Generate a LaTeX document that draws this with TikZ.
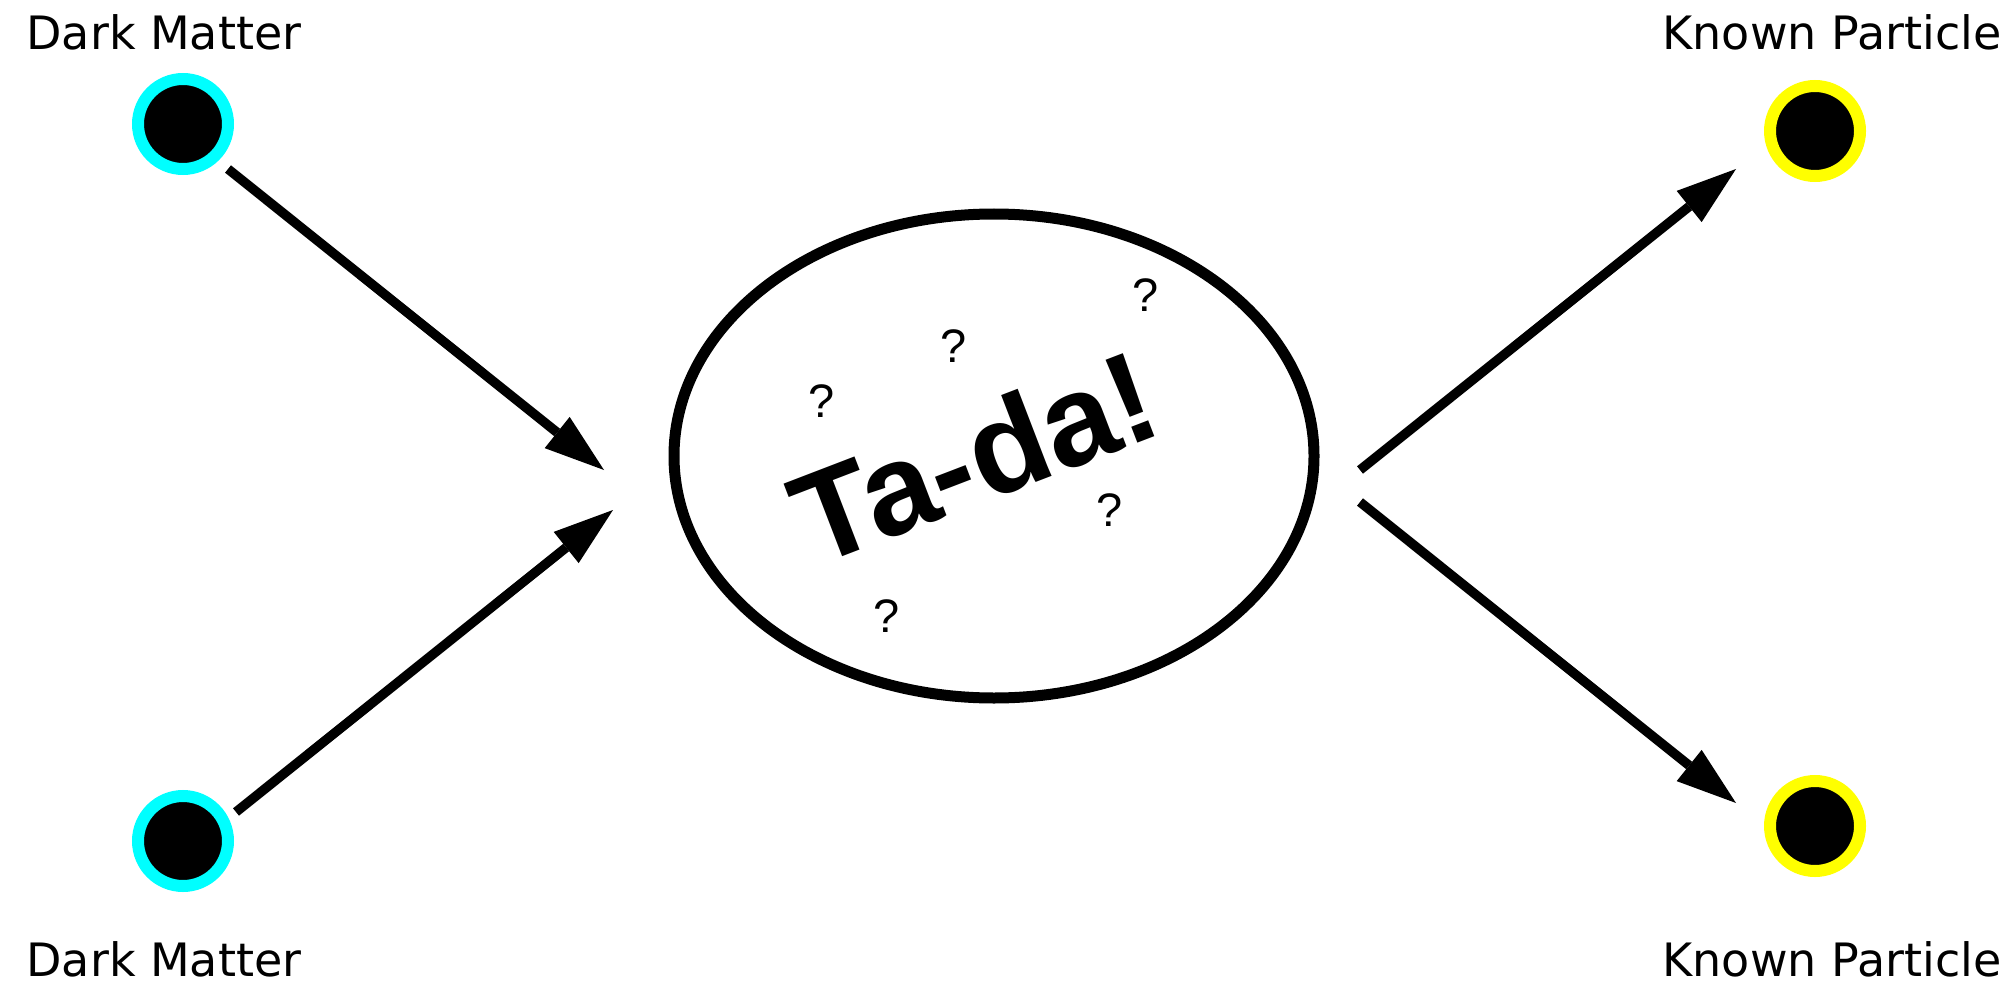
\documentclass[tikz,border=0pt]{standalone}
\usepackage{fontspec}
\setmainfont{Liberation Sans}
\newfontfamily\labelfont{DejaVu Sans}
\usetikzlibrary{arrows.meta}
\definecolor{dmcyan}{RGB}{0,255,255}
\definecolor{kpyellow}{RGB}{255,255,0}
\begin{document}
\begin{tikzpicture}[x=1pt,y=-1pt,
  particle/.style={circle, fill=black, draw=#1, line width=12pt,
    minimum size=90pt, inner sep=0pt},
  lbl/.style={anchor=base, inner sep=0pt, font=\labelfont\fontsize{46}{46}\selectfont},
  flow/.style={line width=9.5pt,
    -{Triangle[length=60pt,width=40pt,line width=0pt]}},
  qmark/.style={inner sep=0pt, font=\fontsize{47}{47}\selectfont}]
\useasboundingbox (0,0) rectangle (2008,987);

% incoming dark matter
\node[particle=dmcyan] (dm1) at (183,124) {};
\node[particle=dmcyan] (dm2) at (183,841) {};
\node[lbl] (dm1l) at (164,50) {Dark Matter};
\node[lbl] (dm2l) at (164,976) {Dark Matter};

% outgoing known particles
\node[particle=kpyellow] (kp1) at (1815,131) {};
\node[particle=kpyellow] (kp2) at (1815,826) {};
\node[lbl] (kp1l) at (1832,50) {Known Particle};
\node[lbl] (kp2l) at (1832,976) {Known Particle};

% the mystery interaction
\draw[line width=11pt] (994,456) ellipse [x radius=320, y radius=242];
\node[inner sep=0pt, rotate=21, font=\bfseries\fontsize{129}{129}\selectfont]
  (tada) at (974,457) {Ta-da!};
\node[qmark] (q1) at (822,401) {?};
\node[qmark] (q2) at (954,346) {?};
\node[qmark] (q3) at (1146,295) {?};
\node[qmark] (q4) at (1110,510) {?};
\node[qmark] (q5) at (887,616) {?};

% arrow end points
\coordinate (a1s) at (228,169);  \coordinate (a1e) at (604,470);
\coordinate (a2s) at (236,812);  \coordinate (a2e) at (613,510);
\coordinate (a3s) at (1360,470); \coordinate (a3e) at (1736,169);
\coordinate (a4s) at (1360,502); \coordinate (a4e) at (1736,803);

\draw[flow] (a1s) -- (a1e);
\draw[flow] (a2s) -- (a2e);
\draw[flow] (a3s) -- (a3e);
\draw[flow] (a4s) -- (a4e);
\end{tikzpicture}
\end{document}
